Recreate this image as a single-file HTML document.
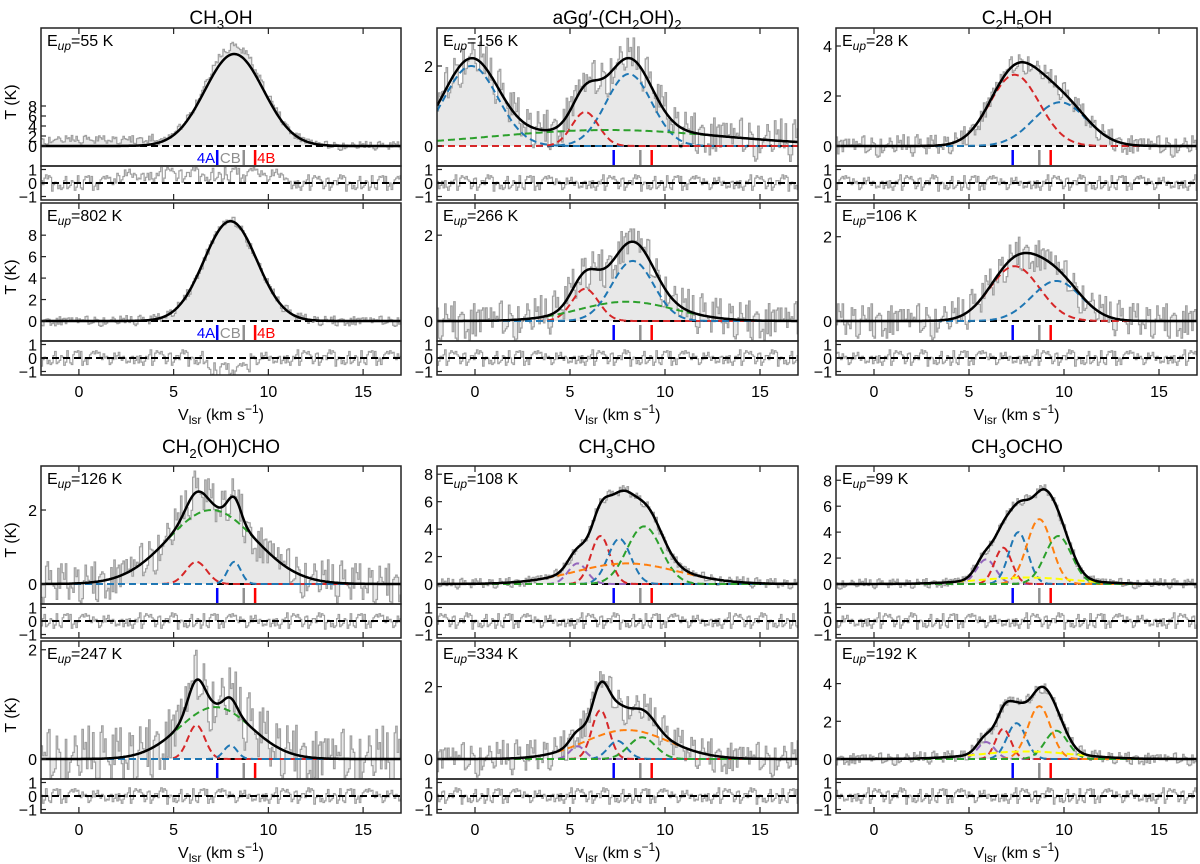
<!DOCTYPE html>
<html><head><meta charset="utf-8"><style>
html,body{margin:0;padding:0;background:#fff;}
svg{display:block;font-family:"Liberation Sans","DejaVu Sans",sans-serif;}
</style></head><body>
<svg id="fig" width="1200" height="864" viewBox="0 0 1200 864" xmlns="http://www.w3.org/2000/svg"></svg>
<script>
// ---- data ----
const xTicks = [0, 5, 10, 15];
const panelEup = [55, 156, 28, 802, 266, 106, 126, 108, 99, 247, 334, 192];
const panelYMax = [23.6, 2.95, 4.72, 11.0, 2.75, 2.8, 3.19, 8.6, 9.1, 2.16, 3.26, 6.26];
const panelTicks = [[0,2,4,6,8],[0,2],[0,2,4],[0,2,4,6,8],[0,2],[0,2],[0,2],[0,2,4,6,8],[0,2,4,6,8],[0,2],[0,2],[0,2,4]];
const panelNoise = [0.9, 0.55, 0.45, 0.5, 0.5, 0.45, 0.6, 0.4, 0.4, 0.6, 0.5, 0.35];
const compCenters = [[8.2],[-0.2,8.1,5.8,7.0],[7.4,9.8],[8.0],[5.8,8.3,8.0],[7.4,9.6],[7.0,6.2,8.2],[5.4,6.6,7.6,8.9,8.0],[5.9,6.8,7.6,8.7,9.7,8.0],[7.2,6.2,8.0],[5.4,6.6,7.5,8.8,8.0],[5.9,6.8,7.5,8.7,9.6,8.0]];
const compAmps = [[18.4],[2.0,1.8,0.85,0.4],[2.85,1.75],[9.3],[0.75,1.4,0.45],[1.3,0.95],[2.0,0.6,0.6],[1.5,3.5,3.3,4.2,1.5],[1.9,2.8,4.0,5.0,3.7,0.5],[0.95,0.62,0.25],[0.35,1.35,0.5,0.6,0.8],[0.9,1.6,1.9,2.8,1.5,0.4]];
const compSigmas = [[1.55],[1.4,1.2,0.7,6.0],[1.3,1.4],[1.4],[0.7,1.1,2.5],[1.3,1.3],[2.3,0.55,0.35],[0.5,0.5,0.6,0.9,2.7],[0.5,0.45,0.5,0.65,0.7,2.5],[1.9,0.45,0.35],[0.4,0.45,0.5,0.7,2.2],[0.45,0.4,0.5,0.6,0.6,2.5]];
const compKinds = [[],["blue","blue","red","green"],["red","blue"],[],["red","blue","green"],["red","blue"],["green","red","blue"],["purple","red","blue","green","orange"],["purple","red","blue","orange","green","yellow"],["green","red","blue"],["purple","red","blue","green","orange"],["purple","red","blue","orange","green","yellow"]];
const markerVel = [7.3, 8.7, 9.3];
const noise = [0.3,-0.5,0.8,-0.2,0.1,-0.9,0.6,0.2,-0.4,1.0,-0.7,0.0,0.5,-0.3,-0.8,0.9,0.2,-0.1,0.7,-0.6,0.4,-1.0,0.3,0.6,-0.2,-0.5,0.8,0.1,-0.9,0.5,0.0,-0.4,0.9,-0.7,0.2,0.6,-0.3,-0.1,0.7,-0.8,0.4,0.1,-0.6,1.0,-0.2,0.3,-0.9,0.5,0.8,-0.4,0.0,-0.7,0.6,0.2,-0.5,0.9,-0.1,-0.3,0.7,-0.8,0.3,0.5,-0.6,0.1,0.8,-0.2,-0.9,0.4,0.6,-0.5,0.2,-0.1,0.9,-0.7,0.3,0.0,-0.4,0.7,-0.6,0.5,0.1,-0.8,0.6,-0.3,0.4,-0.9,0.2,0.8,-0.5,0.0,0.7,-0.2,-0.6,0.9,0.3,-0.4,0.1];

// ---- layout / style ----
const colorMap = {blue:"#1f77b4",red:"#d62728",green:"#2ca02c",orange:"#ff7f0e",purple:"#9467bd",yellow:"#ffff00"};
const cols = [[41,401],[437,798],[836,1197]];
const rowTops = [28,203,466,641];
const mainH = 138, resH = 34;
const xMin = -2, xMax = 17;
const svg = document.getElementById('fig');
const NS = "http://www.w3.org/2000/svg";
function mk(tag, attrs, parent){const e=document.createElementNS(NS,tag);for(const k in attrs)e.setAttribute(k,attrs[k]);(parent||svg).appendChild(e);return e;}
function gauss(v,a,c,s){return a*Math.exp(-0.5*((v-c)/s)*((v-c)/s));}

// titles
const titles = [
 [221,24,[["CH",0],["3",1],["OH",0]]],
 [617,24,[["aGg′-(CH",0],["2",1],["OH)",0],["2",1]]],
 [1017,24,[["C",0],["2",1],["H",0],["5",1],["OH",0]]],
 [221,453,[["CH",0],["2",1],["(OH)CHO",0]]],
 [617,453,[["CH",0],["3",1],["CHO",0]]],
 [1017,453,[["CH",0],["3",1],["OCHO",0]]]
];
const titleNames=['title-ch3oh','title-aggp-ethylene-glycol','title-c2h5oh','title-glycolaldehyde','title-ch3cho','title-ch3ocho'];
titles.forEach((t,i)=>{
  const tx=mk('text',{x:t[0],y:t[1],'text-anchor':'middle','font-size':19,fill:'#000'});
  
  
  let low=false;
  t[2].forEach(p=>{
    let dy=0;
    if(p[1]&&!low){dy=5;low=true;} else if(!p[1]&&low){dy=-5;low=false;}
    const at={dy:dy}; if(p[1])at['font-size']=13;
    const s=mk('tspan',at,tx);s.textContent=p[0];
  });
});

for(let p=0;p<12;p++){
  const row=Math.floor(p/3), col=p%3;
  const [l,r]=cols[col];
  const top=rowTops[row], bot=top+mainH, zeroY=bot-20;
  const ppu=(zeroY-top)/panelYMax[p];
  const X=v=>l+(v-xMin)/(xMax-xMin)*(r-l);
  const Y=v=>zeroY-v*ppu;
  const g=mk('g',{});
  
  
  const cid='clip'+p;
  const cp=mk('clipPath',{id:cid},g);mk('rect',{x:l,y:top,width:r-l,height:mainH},cp);
  const inner=mk('g',{'clip-path':'url(#'+cid+')'},g);
  const step=0.08; let d='', fill='M'+X(xMin).toFixed(1)+','+zeroY;
  let k=0;
  for(let v=xMin; v<xMax+step; v+=step,k++){
    let m=0; for(let j=0;j<compAmps[p].length;j++) m+=gauss(v+step/2,compAmps[p][j],compCenters[p][j],compSigmas[p][j]);
    const o=m*(p===0?1.08:1)+noise[(k*7+p*13)%noise.length]*panelNoise[p]+(p===0&&v<4?1.2:0);
    const y=Y(o).toFixed(1);
    d+=(k?'L':'M')+X(v).toFixed(1)+','+y+'L'+X(v+step).toFixed(1)+','+y;
    fill+='L'+X(v).toFixed(1)+','+y+'L'+X(v+step).toFixed(1)+','+y;
  }
  fill+='L'+X(xMax+step).toFixed(1)+','+zeroY+'Z';
  const fe=mk('path',{d:fill,fill:'#e8e8e8',stroke:'none'},inner);
  
  
  const oe=mk('path',{d:d,fill:'none',stroke:'#a0a0a0','stroke-width':1.2},inner);
  
  
  mk('line',{x1:l,x2:r,y1:zeroY,y2:zeroY,stroke:'#000','stroke-width':2,'stroke-dasharray':'7,4'},inner);
  compKinds[p].forEach((kind,j)=>{
    let cd='';
    for(let i=0;i<=300;i++){const v=xMin+i*(xMax-xMin)/300;cd+=(i?'L':'M')+X(v).toFixed(1)+','+Y(gauss(v,compAmps[p][j],compCenters[p][j],compSigmas[p][j])).toFixed(1);}
    const ce=mk('path',{d:cd,fill:'none',stroke:colorMap[kind],'stroke-width':2,'stroke-dasharray':'7,4'},inner);
    
    
  });
  let md='';
  for(let i=0;i<=400;i++){const v=xMin+i*(xMax-xMin)/400;let m=0;for(let j=0;j<compAmps[p].length;j++)m+=gauss(v,compAmps[p][j],compCenters[p][j],compSigmas[p][j]);md+=(i?'L':'M')+X(v).toFixed(1)+','+Y(m).toFixed(1);}
  const me=mk('path',{d:md,fill:'none',stroke:'#000','stroke-width':2.5},inner);
  
  
  const mcols=['#0000ff','#909090','#ff0000'];
  markerVel.forEach((mv,i)=>{
    const ml=mk('line',{x1:X(mv),x2:X(mv),y1:zeroY+4,y2:zeroY+19,stroke:mcols[i],'stroke-width':2.5},g);
    
    
  });
  if(col===0&&row<2){
    const lb=[['4A',X(7.3)-2,'end','#0000ff'],['CB',X(8.7)-3,'end','#909090'],['4B',X(9.3)+2,'start','#ff0000']];
    lb.forEach(q=>{const t=mk('text',{x:q[1],y:zeroY+17,'text-anchor':q[2],'font-size':15,fill:q[3]},g);t.textContent=q[0];
      
      });
  }
  mk('rect',{x:l,y:top,width:r-l,height:mainH,fill:'none',stroke:'#222','stroke-width':1.5},g);
  panelTicks[p].forEach(tv=>{
    mk('line',{x1:l,x2:l+5,y1:Y(tv),y2:Y(tv),stroke:'#222','stroke-width':1.2},g);
    const t=mk('text',{x:l-4,y:Y(tv)+6,'text-anchor':'end','font-size':16,fill:'#000'},g);t.textContent=tv;
    
    
  });
  const el=mk('text',{x:l+6,y:top+18,'font-size':16,fill:'#000'},g);
  
  
  mk('tspan',{},el).textContent='E';
  mk('tspan',{'font-size':12,'font-style':'italic',dy:4},el).textContent='up';
  mk('tspan',{dy:-4},el).textContent='='+panelEup[p]+' K';
  const rt=bot, rb=bot+resH, rz=rt+17, rp=13.5;
  const rg=mk('g',{});
  
  
  const rcid='rclip'+p;
  const rcp=mk('clipPath',{id:rcid},rg);mk('rect',{x:l,y:rt,width:r-l,height:resH},rcp);
  const ri=mk('g',{'clip-path':'url(#'+rcid+')'},rg);
  let rd='';k=0;
  for(let v=xMin;v<xMax+step;v+=step,k++){
    let rv=noise[(k*3+p*7)%noise.length]*0.6;
    if(p===3&&v>6.8&&v<9)rv-=0.9;
    if(p===0&&v>2&&v<11)rv+=0.6;
    const y=(rz-rv*rp).toFixed(1);
    rd+=(k?'L':'M')+X(v).toFixed(1)+','+y+'L'+X(v+step).toFixed(1)+','+y;
  }
  const re=mk('path',{d:rd,fill:'none',stroke:'#a0a0a0','stroke-width':1.2},ri);
  
  
  mk('line',{x1:l,x2:r,y1:rz,y2:rz,stroke:'#000','stroke-width':2,'stroke-dasharray':'7,4'},ri);
  mk('rect',{x:l,y:rt,width:r-l,height:resH,fill:'none',stroke:'#222','stroke-width':1.5},rg);
  [1,0,-1].forEach(tv=>{
    const yy=rz-tv*rp;
    mk('line',{x1:l,x2:l+5,y1:yy,y2:yy,stroke:'#222','stroke-width':1.2},rg);
    const t=mk('text',{x:l-4,y:yy+6,'text-anchor':'end','font-size':16,fill:'#000'},rg);t.textContent=tv<0?'−1':tv;
    
    
  });
  xTicks.forEach(tv=>{
    mk('line',{x1:X(tv),x2:X(tv),y1:rb,y2:rb-6,stroke:'#222','stroke-width':1.2},rg);
    mk('line',{x1:X(tv),x2:X(tv),y1:top,y2:top+6,stroke:'#222','stroke-width':1.2},g);
    if(row===1||row===3){
      const t=mk('text',{x:X(tv),y:rb+22,'text-anchor':'middle','font-size':16,fill:'#000'},rg);t.textContent=tv;
      
      
    }
  });
  if(row===1||row===3){
    const xl=mk('text',{x:(l+r)/2,y:rb+45,'text-anchor':'middle','font-size':16,fill:'#000'},rg);
    
    
    mk('tspan',{},xl).textContent='V';
    mk('tspan',{'font-size':12,dy:4},xl).textContent='lsr';
    mk('tspan',{dy:-4},xl).textContent=' (km s';
    mk('tspan',{'font-size':12,dy:-7},xl).textContent='−1';
    mk('tspan',{dy:7},xl).textContent=')';
  }
  if(col===0){
    const yl=mk('text',{x:0,y:0,'text-anchor':'middle','font-size':16,fill:'#000',transform:'translate(16,'+(top+mainH/2+5)+') rotate(-90)'});
    
    
    yl.textContent='T (K)';
  }
}
</script>
</body></html>
